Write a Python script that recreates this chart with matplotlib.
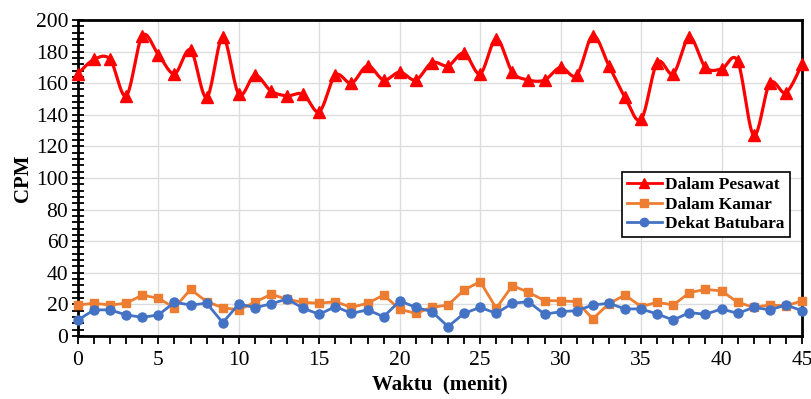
import numpy as np
import matplotlib
matplotlib.use("Agg")
import matplotlib.pyplot as plt
from matplotlib.ticker import MultipleLocator
from matplotlib.lines import Line2D

plt.rcParams['font.family'] = ['Liberation Serif', 'DejaVu Serif']

waktu = list(range(46))
dalam_pesawat = [166, 175, 175, 152, 190, 178, 166, 181, 151, 189,
                 153, 165, 155, 152, 153, 142, 165, 160, 171, 162,
                 167, 162, 173, 171, 179, 166, 188, 167, 162, 162,
                 170, 165, 190, 171, 151, 137, 173, 166, 189, 170,
                 169, 174, 127, 160, 154, 172]
dalam_kamar = [19.6, 20.7, 19.6, 20.7, 25.9, 23.8, 17.9, 29.5, 21.7, 17.9,
               16.5, 21.3, 26.4, 23.2, 21.3, 20.7, 21.7, 18.1, 20.7, 25.9,
               16.9, 14.3, 18.1, 19.6, 29.1, 34.4, 17.5, 31.9, 27.6, 22.4,
               22.2, 21.7, 10.8, 20.5, 25.9, 18.6, 21.3, 19.6, 27.4, 29.5,
               28.5, 21.3, 18.1, 19.6, 19.1, 22.2]
dekat_batubara = [10.1, 16.5, 16.5, 13.3, 11.8, 13.3, 21.3, 19.6, 20.7, 8.4,
                  20.3, 17.9, 20.3, 23.4, 17.5, 13.7, 18.6, 14.3, 16.5, 12.2,
                  22.2, 18.1, 15.4, 5.9, 14.3, 18.1, 14.3, 20.7, 21.7, 13.7,
                  15.4, 16.0, 19.6, 20.7, 17.1, 17.1, 13.9, 10.1, 14.8, 13.7,
                  17.1, 14.3, 18.1, 16.5, 19.6, 16.0]

series_names = ["Dalam Pesawat", "Dalam Kamar", "Dekat Batubara"]
colors = ["#FF0000", "#ED7D31", "#4472C4"]


def smooth(x, y, n=20):
    """Excel-like smoothed line (Catmull-Rom via cubic Bezier)."""
    x = np.asarray(x, float)
    y = np.asarray(y, float)
    px = np.concatenate([[x[0]], x, [x[-1]]])
    py = np.concatenate([[y[0]], y, [y[-1]]])
    xs, ys = [], []
    t = np.linspace(0, 1, n, endpoint=False)
    for i in range(1, len(px) - 2):
        p0 = np.array([px[i], py[i]])
        p3 = np.array([px[i + 1], py[i + 1]])
        c1 = p0 + (np.array([px[i + 1], py[i + 1]]) - np.array([px[i - 1], py[i - 1]])) / 6
        c2 = p3 - (np.array([px[i + 2], py[i + 2]]) - np.array([px[i], py[i]])) / 6
        b = ((1 - t) ** 3)[:, None] * p0 + (3 * (1 - t) ** 2 * t)[:, None] * c1 \
            + (3 * (1 - t) * t ** 2)[:, None] * c2 + (t ** 3)[:, None] * p3
        xs.extend(b[:, 0]); ys.extend(b[:, 1])
    xs.append(x[-1]); ys.append(y[-1])
    return np.array(xs), np.array(ys)


fig = plt.figure(figsize=(8.12, 3.99), dpi=100)
ax = fig.add_axes([0.096, 0.158, 0.8917, 0.792])

sx, sy = smooth(waktu, dalam_pesawat)
ax.plot(sx, sy, color=colors[0], lw=2.3, zorder=3, clip_on=False)
ax.plot(waktu, dalam_pesawat, ls='none', marker='^', ms=8, color=colors[0], zorder=4, clip_on=False)
ax.plot(waktu, dalam_kamar, color=colors[1], lw=2.0, marker='s', ms=6, zorder=3, clip_on=False)
ax.plot(waktu, dekat_batubara, color=colors[2], lw=2.0, marker='o', ms=6.5, zorder=3, clip_on=False)

ax.set_xlim(0, 45)
ax.set_ylim(0, 200)
ax.xaxis.set_major_locator(MultipleLocator(5))
ax.xaxis.set_minor_locator(MultipleLocator(1))
ax.yaxis.set_major_locator(MultipleLocator(20))
ax.yaxis.set_minor_locator(MultipleLocator(4))
ax.grid(True, which='major', color='#DDDDDD', lw=1.0, zorder=0)
ax.set_axisbelow(True)
ax.tick_params(axis='x', which='both', direction='out', length=6, width=1.3, labelsize=15.5, pad=5)
ax.tick_params(axis='y', which='both', direction='inout', length=8, width=1.3, labelsize=15.5, pad=3)
for s in ax.spines.values():
    s.set_linewidth(2.0)
    s.set_color('black')

ax.set_xlabel("Waktu  (menit)", fontsize=15, fontweight='bold', labelpad=3)
ax.set_ylabel("CPM", fontsize=15, fontweight='bold', labelpad=2)

handles = [
    Line2D([], [], color=colors[0], lw=2.0, marker='^', ms=7),
    Line2D([], [], color=colors[1], lw=2.0, marker='s', ms=6),
    Line2D([], [], color=colors[2], lw=2.0, marker='o', ms=6),
]
leg = ax.legend(handles, series_names, loc='upper right', bbox_to_anchor=(0.983, 0.52),
                prop={'weight': 'bold', 'size': 12.5}, frameon=True, fancybox=False,
                edgecolor='black', framealpha=1, handlelength=2.0, handletextpad=0.2,
                borderpad=0.3, labelspacing=0.2, borderaxespad=0)
leg.get_frame().set_linewidth(1.2)

fig.savefig("out.png", dpi=100)
